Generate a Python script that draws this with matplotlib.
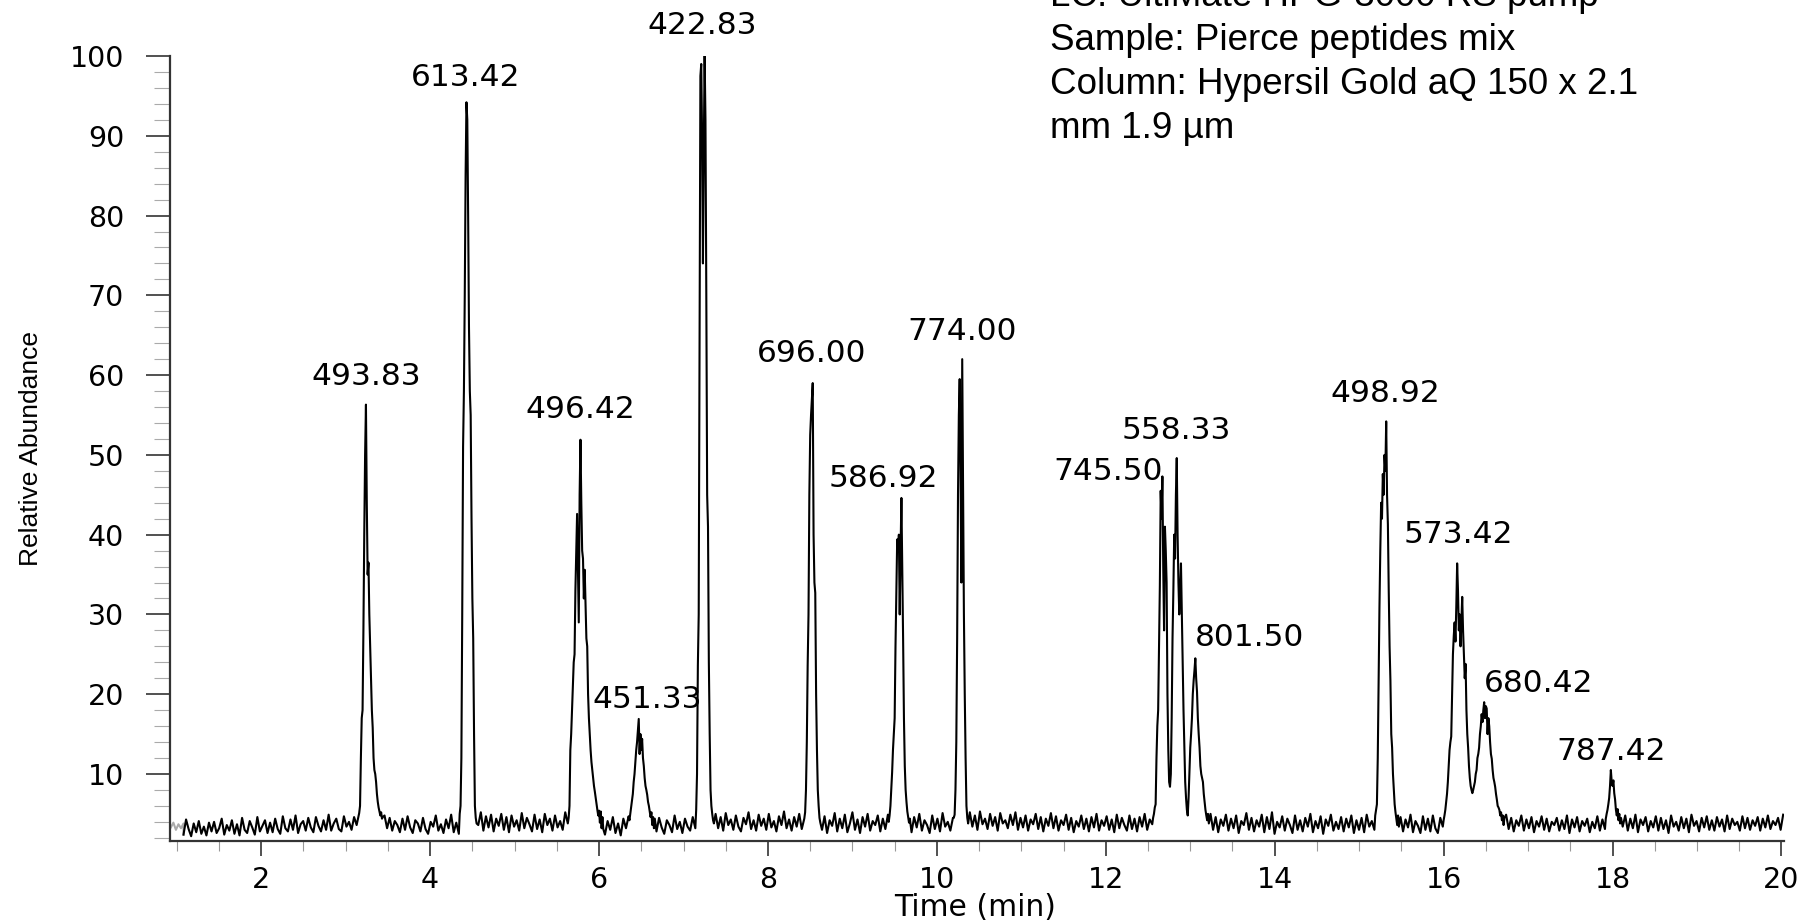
import matplotlib
matplotlib.use('Agg')
import matplotlib.pyplot as plt
from matplotlib import font_manager
from matplotlib.ticker import MultipleLocator
import numpy as np

# ---- trace data: (start min, end min, relative abundance values)
lead_in = (0.93, 1.08, [3.3, 3.9, 3.0, 3.7, 3.2, 3.8])

segments = [
    # baseline A
    (1.08, 3.16, [2.4, 4.3, 3.1, 2.2, 3.8, 2.7, 4.1, 2.5, 3.4, 2.3, 3.9, 2.8, 4.0, 2.6, 3.2, 4.4, 2.4, 3.6, 2.9, 4.2,
                  2.5, 3.7, 2.3, 4.5, 3.0, 2.6, 4.1, 3.3, 2.4, 4.6, 2.8, 3.5, 4.2, 2.6, 3.9, 2.7, 4.4, 3.1, 2.5, 4.7,
                  3.2, 2.8, 4.3, 3.0, 4.8, 2.6, 3.7, 4.1, 2.9, 4.5, 3.3, 2.7, 4.6, 3.5, 2.8, 4.2, 3.0, 4.9, 2.9, 3.8,
                  4.4, 3.1, 2.8, 4.7, 3.4, 4.0, 3.0, 4.6, 3.6, 5.1]),
    # 493.83
    (3.17, 3.44, [6, 12, 17, 18, 28, 40, 50, 56.3, 44, 35, 36.5, 30, 26, 22, 18, 15.8, 12, 10.5, 10, 9,
                  7.5, 6.5, 5.8, 5.3, 4.8, 5.2, 4.4, 4.6]),
    (3.46, 4.34, [4.8, 3.2, 4.5, 2.9, 4.1, 3.6, 2.7, 4.4, 3.0, 4.7, 3.3, 2.6, 4.2, 3.8, 2.8, 4.5, 3.1, 2.5, 4.0, 3.4,
                  4.8, 2.9, 3.7, 2.6, 4.3, 3.2, 4.9, 2.7, 3.9, 2.5]),
    # 613.42
    (4.35, 4.55, [5, 6, 12, 30, 51, 58, 70, 85, 94.2, 92, 80, 66, 58, 55, 42, 32, 27, 15, 6, 4.5, 3.8]),
    (4.57, 5.63, [3.6, 5.2, 2.9, 4.7, 3.3, 4.9, 2.8, 4.4, 3.5, 5.0, 3.0, 4.6, 2.7, 4.8, 3.4, 4.2, 2.9, 5.1, 3.2, 4.5,
                  3.7, 2.8, 4.9, 3.1, 4.3, 2.7, 5.0, 3.6, 4.4, 2.9, 4.8, 3.3, 4.1, 3.0, 5.2, 3.8]),
    # 496.42
    (5.64, 6.05, [4.5, 6, 13, 15, 18, 21, 24, 25, 33, 38, 42.6, 36, 29, 45, 51.9, 44, 38, 37, 32, 35.6,
                  31, 27, 26, 20, 17, 15, 13, 11.5, 10.5, 9.5, 8.5, 7.8, 7, 6.2, 5.5, 4.8, 5.4, 3.9, 5.3, 3.2,
                  4.6, 3.1]),
    (6.07, 6.35, [2.4, 4.1, 3.0, 4.6, 2.6, 3.8, 2.3, 4.4, 3.2, 4.7]),
    # 451.33
    (6.36, 6.66, [4.2, 5, 5.8, 6.5, 7.5, 9, 10, 11.5, 13, 14, 15.5, 16.9, 12.5, 15, 13, 14.4, 12, 11, 9.5, 8.5,
                  8, 7.4, 6.5, 6, 5.3, 4.6, 5.2, 3.6, 4.6, 3.2, 4.4]),
    (6.68, 7.14, [2.8, 4.5, 3.3, 2.5, 4.2, 3.6, 2.7, 4.8, 3.1, 4.0, 2.6, 4.4, 3.4, 2.9, 4.6, 3.2]),
    # 422.83
    (7.15, 7.36, [5.5, 10, 23.6, 30, 65, 97.5, 99, 90, 74, 88, 100, 92, 70, 45, 41, 24, 15, 8, 6, 5, 4.2, 3.8]),
    (7.38, 8.43, [5.0, 3.2, 4.6, 2.9, 5.1, 3.6, 4.3, 3.0, 4.8, 3.4, 2.8, 4.5, 3.7, 5.2, 3.1, 4.2, 2.9, 4.9, 3.5, 4.4,
                  3.0, 5.0, 3.3, 4.1, 2.8, 4.7, 3.6, 5.3, 3.2, 4.3, 2.9, 4.6, 3.4, 5.0, 3.1, 4.4]),
    # 696.00
    (8.44, 8.62, [5.2, 8, 14, 23.6, 30, 45, 52.5, 55, 57, 59, 40, 34, 32.7, 20, 13, 8, 6, 4.5, 3.9]),
    (8.64, 9.42, [3.0, 4.7, 2.6, 4.2, 3.5, 5.1, 2.8, 4.4, 3.2, 4.9, 2.7, 3.8, 5.2, 3.0, 4.3, 2.6, 4.6, 3.4, 5.0, 2.9,
                  4.1, 3.6, 4.8, 2.8, 4.4, 3.1, 4.9]),
    # 586.92
    (9.43, 9.68, [4.0, 4.8, 6, 8, 10.2, 13, 15, 17, 26, 33, 39.4, 38, 40, 30, 38, 44.6, 36, 27, 17, 11,
                  8, 6.5, 5.3, 4.6, 3.9, 4.4]),
    (9.70, 10.19, [2.7, 4.6, 3.3, 5.0, 2.9, 4.2, 3.6, 2.6, 4.8, 3.1, 4.4, 2.8, 5.1, 3.4, 4.0, 2.9, 4.5]),
    # 774.00
    (10.20, 10.37, [4.5, 4.9, 8, 14, 27, 45, 55, 59.5, 48, 34, 62, 45, 30, 20, 12, 6, 4.5, 3.8]),
    (10.39, 12.55, [5.2, 3.4, 4.8, 3.0, 5.3, 3.7, 4.4, 3.1, 5.0, 3.5, 4.6, 2.9, 5.1, 3.8, 4.2, 3.2, 4.9, 3.6, 5.2, 3.0,
                    4.5, 3.3, 4.8, 2.9, 4.3, 3.7, 5.0, 3.1, 4.6, 2.8, 4.4, 3.5, 5.1, 3.2, 4.7, 2.9, 4.2, 3.6, 4.9, 3.0,
                    4.5, 2.7, 4.1, 3.4, 4.8, 3.1, 4.4, 2.8, 4.6, 3.3, 5.0, 2.9, 4.2, 3.5, 4.7, 3.0, 4.3, 2.7, 4.9, 3.2,
                    4.5, 3.6, 2.9, 4.8, 3.1, 4.4, 2.8, 4.6, 3.4, 5.0, 3.0, 4.3, 3.7]),
    # 745.50 / 558.33 / 801.50
    (12.56, 13.22, [4.5, 5, 5.8, 6.2, 12, 16, 18, 26, 33.6, 45.5, 42, 47.3, 36, 28, 41, 38, 34, 20, 13, 9,
                    8.4, 10, 17, 27, 33, 40, 37, 45, 49.6, 40, 34, 30, 33, 36.4, 30, 23.8, 18, 13.3, 9, 7,
                    5.5, 4.8, 7, 10, 13.3, 15, 17, 20, 21.7, 23, 24.5, 22, 20.3, 17, 15, 13.3, 11, 10, 9.5, 9,
                    7.5, 6.5, 5.5, 4.8, 4.2, 5, 3.8]),
    (13.24, 15.18, [5.0, 3.0, 4.6, 2.7, 4.3, 3.5, 4.9, 2.9, 4.4, 3.2, 4.8, 2.6, 4.1, 3.6, 5.1, 3.0, 4.5, 2.8, 4.2, 3.4,
                    4.9, 2.7, 4.6, 3.1, 5.2, 2.5, 4.0, 3.3, 4.7, 2.9, 4.4, 3.6, 2.6, 4.8, 3.0, 4.2, 2.8, 4.5, 3.4, 5.0,
                    2.7, 4.1, 3.2, 4.7, 2.5, 4.3, 3.5, 4.9, 2.9, 4.0, 3.1, 4.6, 2.8, 4.4, 3.3, 4.8, 2.6, 4.2, 3.0, 4.5,
                    2.7, 4.9, 3.4, 4.1, 3.0]),
    # 498.92
    (15.19, 15.47, [4.8, 5.5, 6.2, 12, 22, 30.8, 38, 44, 42, 47.6, 45, 50, 48, 54.2, 45, 41.3, 33, 26, 21.7, 15,
                    13.3, 10, 8, 6.2, 5.2, 4.4, 3.6, 4.8, 3.4]),
    (15.49, 15.99, [4.6, 2.8, 4.3, 3.3, 4.9, 2.7, 4.1, 3.5, 2.6, 4.7, 3.0, 4.4, 2.8, 4.8, 3.2, 2.6, 4.5, 3.4]),
    # 573.42 / 680.42
    (16.00, 16.72, [4.2, 4.8, 5.5, 6.5, 7.5, 9, 11, 13, 14, 14.7, 20, 25, 27.3, 29, 26.6, 31, 36.4, 33, 28, 30,
                    26, 29, 32.2, 28, 25, 22, 23.8, 18, 15, 13.3, 11, 9.5, 8.5, 8, 7.6, 8, 8.5, 9, 10, 10.5,
                    12, 12.5, 13.3, 15, 16, 17.5, 16.5, 18, 19, 17, 18.5, 18.2, 15, 17, 16, 14, 12.5, 11.9, 10.5, 9.5,
                    9, 8.4, 7.5, 6.8, 6, 5.8, 5.5, 4.8, 5.2, 4.2, 4.8, 3.6, 4.5]),
    (16.74, 17.91, [4.9, 3.1, 4.5, 2.8, 4.2, 3.5, 4.8, 2.9, 4.3, 3.2, 4.6, 2.7, 4.1, 3.4, 4.7, 3.0, 4.4, 2.8, 4.0, 3.6,
                    4.5, 2.9, 4.2, 3.1, 4.8, 2.6, 4.3, 3.3, 4.6, 2.8, 4.1, 3.5, 4.4, 2.7, 4.0, 3.2, 4.7, 2.9, 4.3, 3.1]),
    # 787.42
    (17.92, 18.10, [4.4, 5, 5.5, 6.2, 7, 8.5, 10.5, 9, 8.5, 9.2, 7.6, 6.8, 5.5, 4.8, 5.6, 4.2, 5, 3.8, 4.5]),
    (18.12, 20.02, [3.4, 4.8, 2.9, 4.4, 3.2, 4.9, 2.7, 4.3, 3.6, 4.6, 2.8, 4.1, 3.3, 4.7, 2.9, 4.5, 3.1, 4.2, 2.6, 4.8,
                    3.4, 4.0, 2.9, 4.6, 3.2, 4.4, 2.7, 4.9, 3.5, 4.1, 2.8, 4.5, 3.3, 4.7, 3.0, 4.2, 2.9, 4.6, 3.4, 4.3,
                    2.8, 4.8, 3.1, 4.4, 3.6, 4.0, 2.9, 4.7, 3.2, 4.5, 3.0, 4.2, 3.5, 4.6, 2.9, 4.4, 3.3, 4.8, 3.1, 4.1,
                    3.6, 4.5, 3.0, 4.9]),
]

# ---- peak annotations (m/z, retention time, apex height)
peak_mz = ['493.83', '613.42', '496.42', '451.33', '422.83', '696.00', '586.92', '774.00',
           '745.50', '558.33', '801.50', '498.92', '573.42', '680.42', '787.42']
peak_rt = [3.24, 4.43, 5.78, 6.47, 7.23, 8.53, 9.58, 10.30,
           12.67, 12.84, 13.06, 15.32, 16.16, 16.48, 17.98]
peak_top = [56.3, 94.2, 51.9, 16.9, 100, 59, 44.6, 62,
            47.3, 49.6, 24.5, 54.2, 36.4, 19, 10.5]

# label placement (ha, dx in min, dy in %)
label_place = [('center', 0, 2.5), ('center', -0.01, 2.1), ('center', 0, 2.7), ('center', 0.10, 1.4),
               ('center', -0.01, 2.8), ('center', -0.01, 2.6), ('center', -0.22, 1.4), ('center', 0, 2.4),
               ('right', 0, -0.4), ('center', 0, 2.4), ('left', 0, 1.5), ('center', -0.01, 2.4),
               ('center', 0.01, 2.5), ('left', 0, 1.3), ('center', 0, 1.2)]

info_lines = ['LC: UltiMate HPG-3000 RS pump',
              'Sample: Pierce peptides mix',
              'Column: Hypersil Gold aQ 150 x 2.1',
              'mm 1.9 \u00b5m']

#build trace
t_all, y_all = [], []
for start, end, vals in segments:
    t_all.append(np.linspace(start, end, len(vals)))
    y_all.append(np.array(vals, dtype=float))
t_all = np.concatenate(t_all)
y_all = np.concatenate(y_all)

t_lead = np.linspace(lead_in[0], lead_in[1], len(lead_in[2]))
y_lead = np.array(lead_in[2])

#narrow font for the y label if there is one
try:
    font_manager.findfont('Liberation Sans Narrow', fallback_to_default=False)
    ylab_font, ylab_size = 'Liberation Sans Narrow', 22
except ValueError:
    ylab_font, ylab_size = 'Liberation Sans', 19

W, H = 1804, 922
fig = plt.figure(figsize=(W / 100, H / 100), dpi=100)
ax = fig.add_axes([170 / W, 81 / H, (1784 - 170) / W, (841 - 56) / H])

ax.plot(np.append(t_lead, t_all[0]), np.append(y_lead, y_all[0]), color='#aaaaaa', lw=1.5)
ax.plot(t_all, y_all, color='#000000', lw=1.5)

ax.set_xlim(0.92, 20.03)
ax.set_ylim(1.6, 100)

for s in ['top', 'right']:
    ax.spines[s].set_visible(False)
for s in ['left', 'bottom']:
    ax.spines[s].set_linewidth(1.6)
    ax.spines[s].set_color('#333333')

ax.set_xticks(np.arange(2, 21, 2))
ax.xaxis.set_minor_locator(MultipleLocator(0.5))
ax.set_yticks(np.arange(10, 101, 10))
ax.yaxis.set_minor_locator(MultipleLocator(2))

ax.tick_params(axis='x', which='major', length=11, width=1.2, color='#333333', pad=7,
               labelsize=20.5, labelfontfamily='DejaVu Sans')
ax.tick_params(axis='x', which='minor', length=7, width=0.8, color='#999999')
ax.tick_params(axis='y', which='major', length=17, width=1.2, color='#333333', pad=16,
               labelsize=20.5, labelfontfamily='DejaVu Sans')
ax.tick_params(axis='y', which='minor', length=11.5, width=0.8, color='#aaaaaa')

for mz, rt, top, (ha, dx, dy) in zip(peak_mz, peak_rt, peak_top, label_place):
    ax.text(rt + dx, top + dy, mz, ha=ha, va='baseline', fontsize=22.5,
            family='DejaVu Sans', clip_on=False)

fig.text(975 / W, 1 - 907 / H, 'Time (min)', ha='center', va='center', fontsize=21.5,
         family='DejaVu Sans')
fig.text(31 / W, 1 - 448 / H, 'Relative Abundance', ha='center', va='center', rotation=90,
         fontsize=ylab_size, family=ylab_font)

for i, line in enumerate(info_lines):
    fig.text(1050 / W, 1 - (6 + 44 * i) / H, line, ha='left', va='baseline', fontsize=26.5,
             family='Liberation Sans')

fig.savefig('out.png', dpi=100)
